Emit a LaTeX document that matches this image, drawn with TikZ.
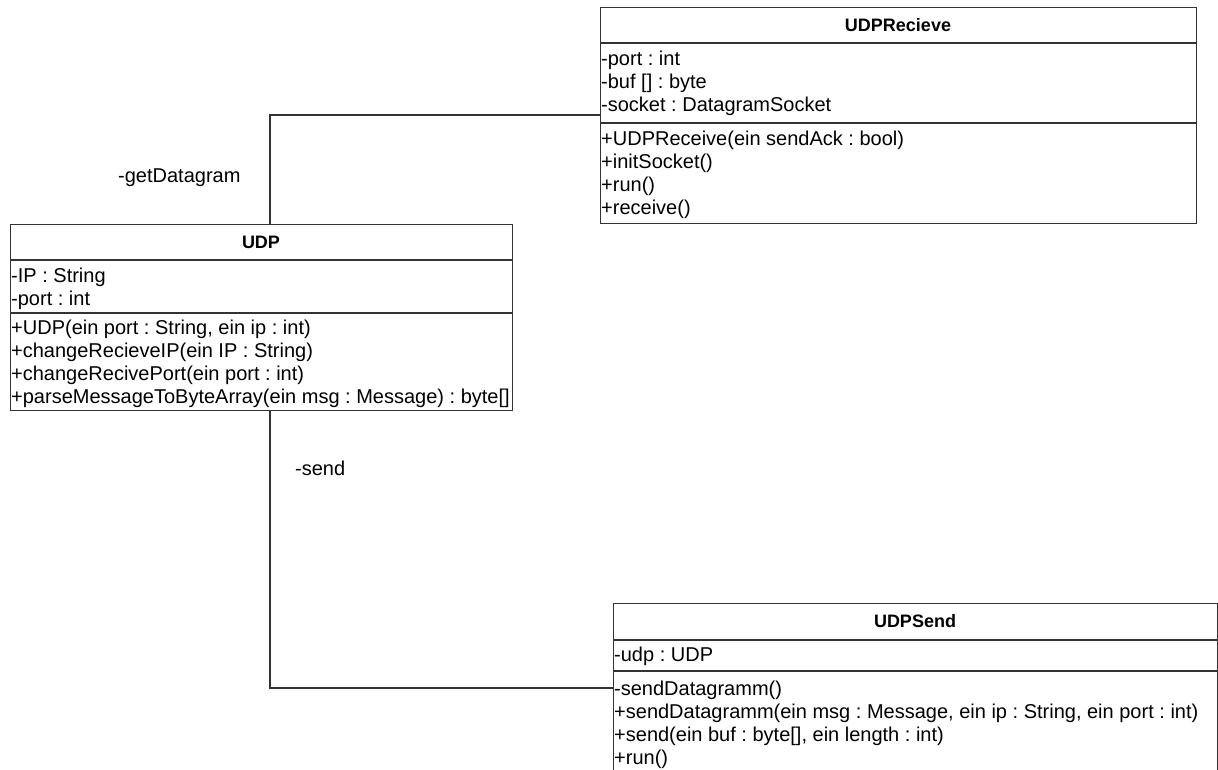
\documentclass[tikz,border=0pt]{standalone}
\usepackage{fontspec}
\setmainfont{Liberation Sans}
\usetikzlibrary{calc}
\frenchspacing
\tikzset{cls/.style={draw=black!80, line width=1.4pt}}
\tikzset{box/.style={cls, anchor=north west, inner sep=0pt}}
\tikzset{hd/.style={font=\fontsize{18}{18}\selectfont\bfseries}}
\tikzset{l/.style={font=\fontsize{20}{20}\selectfont, anchor=base west, inner sep=0pt}}

\begin{document}
\begin{tikzpicture}[x=1pt, y=-1pt]
  \path[use as bounding box, fill=white] (0,0) rectangle (1218,769);
  % UDPRecieve
  \node[box, minimum width=596pt, minimum height=216pt] (recv) at (600,7) {};
  \draw[cls] (recv.west |- 0,43) -- (recv.east |- 0,43);
  \draw[cls] (recv.west |- 0,123) -- (recv.east |- 0,123);
  \node[hd] (recvT) at (898,25) {UDPRecieve};
  \foreach \t [count=\i] in {-port : int, -buf [] : byte, -socket : DatagramSocket}
    \node[l] (recvA\i) at (601,42+23*\i) {\t};
  \foreach \t [count=\i] in {+UDPReceive(ein sendAck : bool), +initSocket(), +run(), +receive()}
    \node[l] (recvM\i) at (601,122+23*\i) {\t};
  % UDP
  \node[box, minimum width=502pt, minimum height=186pt] (udp) at (10,224) {};
  \draw[cls] (udp.west |- 0,260) -- (udp.east |- 0,260);
  \draw[cls] (udp.west |- 0,313) -- (udp.east |- 0,313);
  \node[hd] (udpT) at (261,242) {UDP};
  \foreach \t [count=\i] in {-IP : String, -port : int}
    \node[l] (udpA\i) at (11,259+23*\i) {\t};
  \foreach \t [count=\i] in {{+UDP(ein port : String, ein ip : int)}, +changeRecieveIP(ein IP : String),
      +changeRecivePort(ein port : int), +parseMessageToByteArray(ein msg : Message) : byte[]}
    \node[l] (udpM\i) at (11,311+23*\i) {\t};
  % UDPSend
  \node[box, minimum width=604pt, minimum height=200pt] (send) at (613,603) {};
  \draw[cls] (send.west |- 0,640) -- (send.east |- 0,640);
  \draw[cls] (send.west |- 0,671) -- (send.east |- 0,671);
  \node[hd] (sendT) at (915,621) {UDPSend};
  \node[l] (sendA1) at (614,661) {-udp : UDP};
  \foreach \t [count=\i] in {-sendDatagramm(), {+sendDatagramm(ein msg : Message, ein ip : String, ein port : int)},
      {+send(ein buf : byte[], ein length : int)}, +run()}
    \node[l] (sendM\i) at (614,672+23*\i) {\t};
  % associations
  \coordinate (gd) at (270,115);
  \coordinate (sd) at (270,688);
  \draw[cls] (udp.north -| gd) -- (gd) -- (recv.west |- gd);
  \draw[cls] (udp.south -| sd) -- (sd) -- (send.west |- sd);
  \node[l] (gdL) at (118,182) {-getDatagram};
  \node[l] (sdL) at (295,475) {-send};
\end{tikzpicture}
\end{document}
